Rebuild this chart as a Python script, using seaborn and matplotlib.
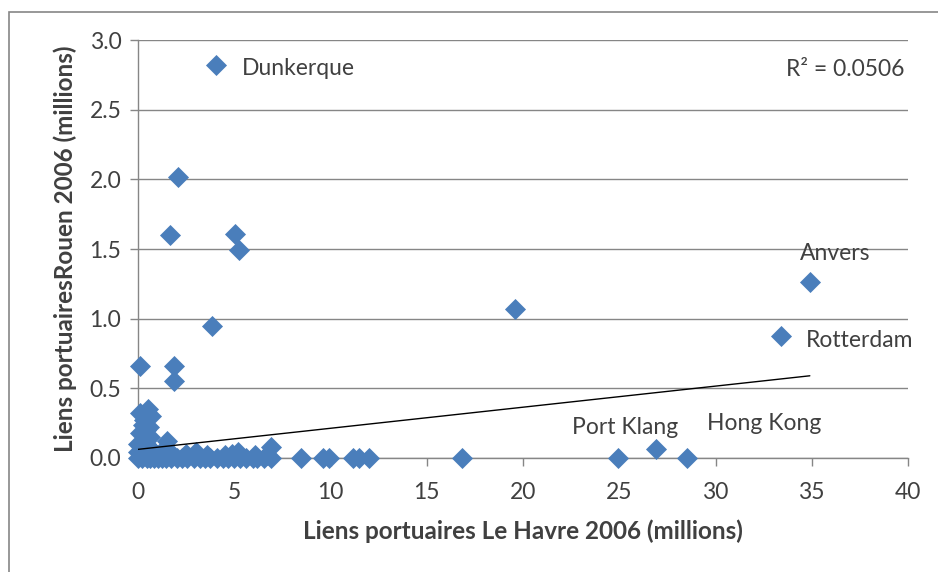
import seaborn as sns
import pandas as pd
import numpy as np
import matplotlib.pyplot as plt
from matplotlib.patches import Rectangle

# Le Havre links (x) and Rouen links (y), millions
havre = [4.05, 2.08, 1.66, 5.04, 5.25, 3.84, 19.6, 34.9, 33.4,
         0.1, 1.87, 1.87, 16.85, 24.95, 26.9, 28.5,
         8.45, 9.6, 9.9, 11.15, 11.5, 12.0, 6.9, 6.9,
         0.0, 0.2, 0.45, 0.6, 0.85, 1.05, 1.25, 1.45, 1.7, 2.0, 2.3, 2.55,
         2.9, 3.2, 3.5, 3.75, 4.1, 4.4, 4.7, 5.0, 5.3, 5.6, 5.95, 6.2, 6.55,
         0.3, 1.0, 2.5, 3.0, 4.5, 5.2, 6.1, 0.6, 1.8, 3.6, 4.9, 6.7,
         0.0, 0.1, 0.3, 0.5, 0.7, 0.4, 0.6, 0.2, 0.8, 0.1, 0.4, 1.5, 1.3,
         0.25, 0.55, 0.0, 0.35]
rouen = [2.82, 2.02, 1.60, 1.61, 1.49, 0.95, 1.07, 1.26, 0.875,
         0.66, 0.66, 0.55, 0.0, 0.0, 0.065, 0.0,
         0.0, 0.0, 0.0, 0.0, 0.0, 0.0, 0.08, 0.0,
         0.0, 0.0, 0.0, 0.0, 0.0, 0.0, 0.0, 0.0, 0.0, 0.0, 0.0, 0.0,
         0.0, 0.0, 0.0, 0.0, 0.0, 0.0, 0.0, 0.0, 0.0, 0.0, 0.0, 0.0, 0.0,
         0.03, 0.02, 0.03, 0.04, 0.02, 0.04, 0.02, 0.03, 0.02, 0.02, 0.03, 0.02,
         0.1, 0.32, 0.27, 0.35, 0.3, 0.2, 0.15, 0.08, 0.05, 0.18, 0.1, 0.12, 0.06,
         0.24, 0.22, 0.04, 0.3]

# labelled ports: name, x, y
port_names = ["Dunkerque", "Anvers", "Rotterdam", "Port Klang", "Hong Kong"]
port_x = [4.05, 34.9, 33.4, 26.9, 28.5]
port_y = [2.82, 1.26, 0.875, 0.065, 0.0]

# Excel linear trendline
trend_intercept = 0.062
trend_slope = 0.01513
r2_text = "R² = 0.0506"

df = pd.DataFrame({"havre": havre, "rouen": rouen})

sns.set_theme(style="white")
plt.rcParams['font.family'] = ['Lato', 'DejaVu Sans']

blue = "#4a7ebb"
grey = "#868686"
txt = "#404040"
fs = 16.5

fig = plt.figure(figsize=(9.38, 5.72), dpi=100)
ax = fig.add_axes([138/938, 1-458/572, 770/938, 418/572])

sns.scatterplot(data=df, x="havre", y="rouen", marker="D", s=115,
                color=blue, edgecolor=blue, linewidth=0, ax=ax, zorder=3,
                clip_on=False)

xs = np.array([df.havre.min(), df.havre.max()])
trend = pd.DataFrame({"x": xs, "y": trend_intercept + trend_slope * xs})
sns.lineplot(data=trend, x="x", y="y", color="black", linewidth=1, ax=ax, zorder=4)

ax.set_xlim(0, 40)
ax.set_ylim(0, 3.0)
ax.set_xticks(np.arange(0, 41, 5))
ax.set_yticks(np.arange(0, 3.01, 0.5))
ax.set_yticklabels([f"{v:.1f}" for v in np.arange(0, 3.01, 0.5)])
ax.yaxis.grid(True, color=grey, linewidth=1)
ax.xaxis.grid(False)
ax.set_axisbelow(True)
for side in ["top", "right"]:
    ax.spines[side].set_visible(False)
for side in ["left", "bottom"]:
    ax.spines[side].set_color(grey)
    ax.spines[side].set_linewidth(1)
ax.tick_params(axis="both", colors=grey, labelcolor=txt, labelsize=fs,
               direction="out", length=6, width=1)
ax.tick_params(axis="x", pad=11, bottom=True)
ax.tick_params(axis="y", pad=6, left=True)

ax.set_xlabel("Liens portuaires Le Havre 2006 (millions)", fontsize=17.5,
              fontweight="bold", color=txt, labelpad=12)
ax.set_ylabel("Liens portuairesRouen 2006 (millions)", fontsize=17.5,
              fontweight="bold", color=txt, labelpad=9)

offsets = {"Dunkerque": (26, -3, "left"), "Anvers": (25, 29, "center"),
           "Rotterdam": (25, -4, "left"), "Port Klang": (-31, 21, "center"),
           "Hong Kong": (78, 35, "center")}
for name, px, py in zip(port_names, port_x, port_y):
    dx, dy, ha = offsets[name]
    ax.annotate(name, (px, py), xytext=(dx, dy), textcoords="offset pixels",
                ha=ha, va="center", fontsize=fs, color=txt, annotation_clip=False)

ax.text(0.996, 0.93, r2_text, transform=ax.transAxes, ha="right", va="center",
        fontsize=fs, color=txt)

# outer chart frame (only top and left edges are visible in the crop)
fig.patches.append(Rectangle((9/938, -0.2), 1.2, 1.2 - 12/572,
                             transform=fig.transFigure, fill=False,
                             edgecolor=grey, linewidth=1.2))

fig.savefig("out.png", dpi=100)
